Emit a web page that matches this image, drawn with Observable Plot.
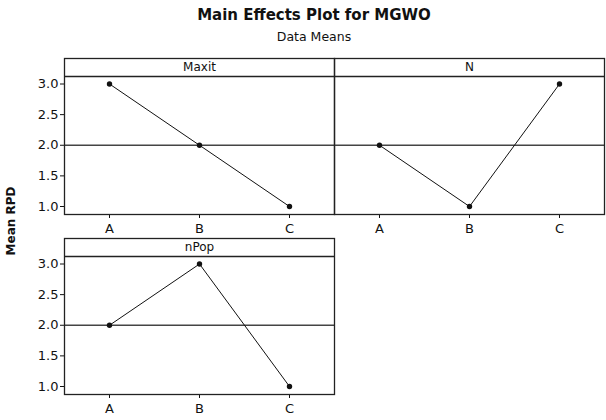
<!DOCTYPE html>
<html>
<head>
<meta charset="utf-8">
<script src="https://cdn.jsdelivr.net/npm/d3@7"></script>
<script src="https://cdn.jsdelivr.net/npm/@observablehq/plot@0.6"></script>
<style>
  html, body { margin: 0; padding: 0; background: #fff; }
  #wrap { position: relative; width: 606px; height: 420px; font-family: "DejaVu Sans", sans-serif; }
  .title { position: absolute; left: 114px; width: 400px; text-align: center; top: 6px; font-size: 15px; font-weight: bold; color: #111; }
  .subtitle { position: absolute; left: 114px; width: 400px; text-align: center; top: 29px; font-size: 12.5px; color: #111; }
  .ylabel { position: absolute; left: 11px; top: 221px; transform: translate(-50%, -50%) rotate(-90deg); font-size: 12px; font-weight: bold; white-space: nowrap; color: #111; }
  .panel { position: absolute; }
</style>
</head>
<body>
<div id="wrap">
  <div class="title">Main Effects Plot for MGWO</div>
  <div class="subtitle">Data Means</div>
  <div class="ylabel">Mean RPD</div>
</div>
<script>
// Data
const levels = ["A", "B", "C"];
const factors = ["Maxit", "N", "nPop"];
const maxitMeans = [3.0, 2.0, 1.0];
const nMeans = [2.0, 1.0, 3.0];
const nPopMeans = [2.0, 3.0, 1.0];
const grandMean = 2.0;
const yTicks = [1.0, 1.5, 2.0, 2.5, 3.0];
const yTitle = "Mean RPD";

const seriesByFactor = { Maxit: maxitMeans, N: nMeans, nPop: nPopMeans };

// layout
const panelW = 270, headerH = 18, plotH = 138;
const unitPx = 61.25;
const yLo = 1 - 8 / unitPx;           // bottom of plotting area
const yHi = 3 + 7.5 / unitPx;         // top of plotting area (header boundary)
const yHeaderTop = yHi + headerH / unitPx;

const panels = [
  { name: "Maxit", left: 64,  top: 58,  showY: true },
  { name: "N",     left: 334, top: 58,  showY: false },
  { name: "nPop",  left: 64,  top: 238, showY: true }
];

const wrap = document.getElementById("wrap");
const mL = 40, mR = 2, mT = 2, mB = 30;

for (const p of panels) {
  const vals = seriesByFactor[p.name];
  const data = levels.map((l, i) => ({ level: l, mean: vals[i] }));
  const chart = Plot.plot({
    width: mL + panelW + mR,
    height: mT + headerH + plotH + mB,
    marginLeft: mL, marginRight: mR, marginTop: mT, marginBottom: mB,
    style: { fontFamily: "DejaVu Sans, sans-serif", fontSize: "13px", color: "#111", background: "transparent" },
    x: { type: "point", domain: levels, padding: 0.5, label: null, tickSize: 4, tickPadding: 5 },
    y: { domain: [yLo, yHeaderTop], label: null, ticks: p.showY ? yTicks : [], tickFormat: d3.format(".1f"), tickSize: 4, tickPadding: 2 },
    marks: [
      Plot.ruleY([grandMean], { stroke: "#444", strokeWidth: 1.3 }),
      Plot.ruleY([yHi], { stroke: "#222", strokeWidth: 1.3 }),
      Plot.text([p.name], { y: () => (yHi + yHeaderTop) / 2, text: d => d, fill: "#111", fontSize: 12 }),
      Plot.line(data, { x: "level", y: "mean", stroke: "#111", strokeWidth: 1 }),
      Plot.dot(data, { x: "level", y: "mean", r: 2.7, fill: "#111", stroke: "none" }),
      Plot.frame({ stroke: "#222", strokeWidth: 1.3 })
    ]
  });
  chart.classList.add("panel");
  chart.style.left = (p.left - mL) + "px";
  chart.style.top = (p.top - mT) + "px";
  wrap.appendChild(chart);
}
</script>
</body>
</html>
